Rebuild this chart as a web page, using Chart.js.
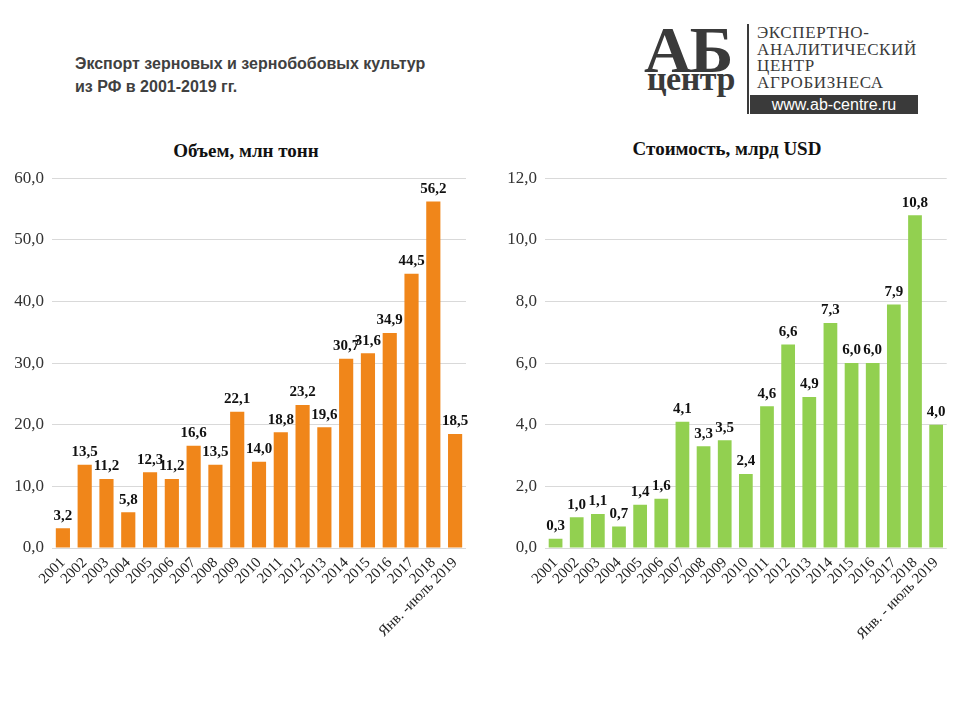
<!DOCTYPE html>
<html>
<head>
<meta charset="utf-8">
<script src="https://cdn.jsdelivr.net/npm/chart.js@4.4.1/dist/chart.umd.min.js"></script>
<style>
  body { margin: 0; width: 960px; height: 720px; background: #fff; position: relative; overflow: hidden; }
  .abs { position: absolute; }
  .head { left: 75px; top: 52px; font: bold 16px "Liberation Sans", Arial, sans-serif; color: #404040; line-height: 23px; }
  .ctitle { font: bold 19px "Liberation Serif", "Times New Roman", serif; color: #111; text-align: center; width: 400px; }
  .logoAB { left: 644px; top: 12px; font: bold 66px "Liberation Serif", serif; color: #3a3a3a; letter-spacing: -2px; }
  .logoC { left: 647px; top: 60px; font: bold 34px "Liberation Serif", serif; color: #3a3a3a; letter-spacing: -0.5px; }
  .vline { left: 747px; top: 24px; width: 2px; height: 90px; background: #3a3a3a; }
  .ltext { left: 757px; top: 25px; font: 17px "Liberation Serif", serif; color: #3a3a3a; line-height: 16.5px; letter-spacing: 0.6px; }
  .url { left: 750px; top: 95px; width: 168px; height: 19px; background: #3a3a3a; color: #fff; font: 16px "Liberation Sans", sans-serif; line-height: 19px; text-align: center; }
  .box { position: absolute; top: 160px; width: 475px; height: 530px; }
</style>
</head>
<body>
<div class="abs head">Экспорт зерновых и зернобобовых культур<br>из РФ в 2001-2019 гг.</div>

<div class="abs logoAB">АБ</div>
<div class="abs logoC">центр</div>
<div class="abs vline"></div>
<div class="abs ltext">ЭКСПЕРТНО-<br>АНАЛИТИЧЕСКИЙ<br>ЦЕНТР<br>АГРОБИЗНЕСА</div>
<div class="abs url">www.ab-centre.ru</div>

<div class="abs ctitle" style="left:46px; top:140px;">Объем, млн тонн</div>
<div class="abs ctitle" style="left:527px; top:138px;">Стоимость, млрд USD</div>

<div class="box" style="left:0px;"><canvas id="volChart"></canvas></div>
<div class="box" style="left:480px;"><canvas id="valChart"></canvas></div>

<script>
// Данные
const years = ["2001","2002","2003","2004","2005","2006","2007","2008","2009","2010",
  "2011","2012","2013","2014","2015","2016","2017","2018"];
const volLabels = years.concat(["Янв. -июль 2019"]);
const valLabels = years.concat(["Янв. - июль 2019"]);
const volume = [3.2, 13.5, 11.2, 5.8, 12.3, 11.2, 16.6, 13.5, 22.1, 14.0,
  18.8, 23.2, 19.6, 30.7, 31.6, 34.9, 44.5, 56.2, 18.5];
const value = [0.3, 1.0, 1.1, 0.7, 1.4, 1.6, 4.1, 3.3, 3.5, 2.4,
  4.6, 6.6, 4.9, 7.3, 6.0, 6.0, 7.9, 10.8, 4.0];

const fmt = v => v.toFixed(1).replace(".", ",");

// Подписи значений над столбцами
const barLabels = {
  id: "barLabels",
  afterDatasetsDraw(chart) {
    const ctx = chart.ctx;
    const ds = chart.data.datasets[0];
    const meta = chart.getDatasetMeta(0);
    ctx.save();
    ctx.font = "bold 15px 'Liberation Serif', serif";
    ctx.fillStyle = "#111";
    ctx.textAlign = "center";
    ctx.textBaseline = "bottom";
    meta.data.forEach((bar, i) => {
      ctx.fillText(fmt(ds.data[i]), bar.x, bar.y - 5);
    });
    ctx.restore();
  }
};

function makeChart(id, labels, data, color, max, step, yWidth, padTop, padRight) {
  return new Chart(document.getElementById(id), {
    type: "bar",
    data: {
      labels: labels,
      datasets: [{
        data: data,
        backgroundColor: color,
        borderWidth: 0,
        categoryPercentage: 1,
        barPercentage: 0.65
      }]
    },
    options: {
      responsive: true,
      maintainAspectRatio: false,
      animation: false,
      layout: { padding: { top: padTop, right: padRight, left: 0, bottom: 0 } },
      plugins: { legend: { display: false }, tooltip: { enabled: false } },
      scales: {
        x: {
          grid: { display: false, drawTicks: false },
          border: { display: false },
          ticks: {
            autoSkip: false,
            minRotation: 45, maxRotation: 45, padding: 6,
            color: "#222",
            font: { family: "'Liberation Serif', serif", size: 15 }
          },
          afterFit: s => { s.height = 142; }
        },
        y: {
          min: 0, max: max,
          grid: { color: "#d9d9d9", drawTicks: false },
          border: { display: false },
          ticks: {
            stepSize: step, padding: 8,
            color: "#333",
            font: { family: "'Liberation Serif', serif", size: 17 },
            callback: v => fmt(v)
          },
          afterFit: s => { s.width = yWidth; }
        }
      }
    },
    plugins: [barLabels]
  });
}

makeChart("volChart", volLabels, volume, "#F0861A", 60, 10, 52, 9, 9);
makeChart("valChart", valLabels, value, "#92D050", 12, 2, 65, 11, 5);
</script>
</body>
</html>
